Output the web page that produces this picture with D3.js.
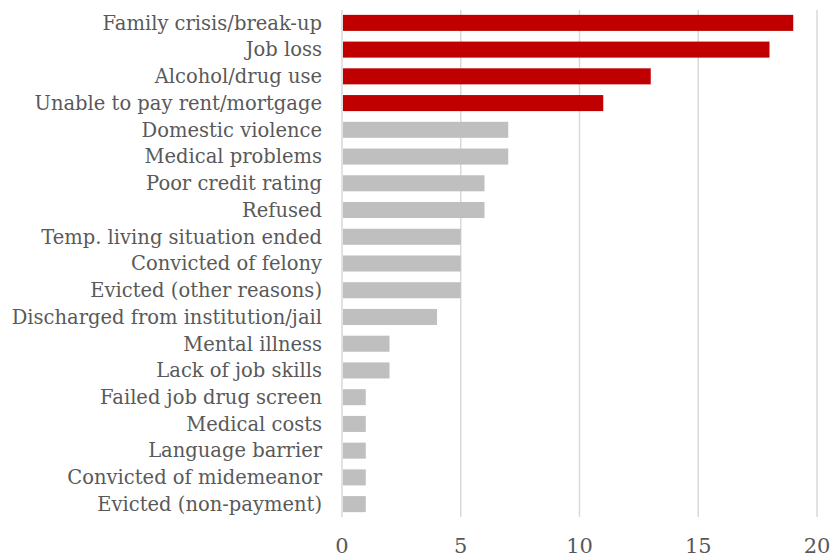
<!DOCTYPE html>
<html>
<head>
<meta charset="utf-8">
<script src="https://cdn.jsdelivr.net/npm/d3@7"></script>
<style>
  body { margin: 0; background: #fff; }
  text { font-family: "DejaVu Serif", serif; fill: #595959; }
</style>
</head>
<body>
<div class="root"></div>
<script>
var categories = ['Family crisis/break-up', 'Job loss', 'Alcohol/drug use', 'Unable to pay rent/mortgage',
  'Domestic violence', 'Medical problems', 'Poor credit rating', 'Refused',
  'Temp. living situation ended', 'Convicted of felony', 'Evicted (other reasons)',
  'Discharged from institution/jail', 'Mental illness', 'Lack of job skills',
  'Failed job drug screen', 'Medical costs', 'Language barrier',
  'Convicted of midemeanor', 'Evicted (non-payment)'];
var values = [19, 18, 13, 11, 7, 7, 6, 6, 5, 5, 5, 4, 2, 2, 1, 1, 1, 1, 1];
var highlighted = [true, true, true, true, false, false, false, false, false, false,
  false, false, false, false, false, false, false, false, false];
var tickValues = [0, 5, 10, 15, 20];

var w = 834, h = 559;

var svg = d3.select('.root').append('svg')
  .attr('width', w)
  .attr('height', h);

var x = d3.scaleLinear().domain([0, 20]).range([342, 817]);
var y = d3.scaleBand().domain(categories).range([9.5, 517.5]).paddingInner(0.4).paddingOuter(0.2);

// gridlines
svg.append('g')
  .selectAll('line')
  .data(tickValues)
  .enter().append('line')
    .attr('x1', function(d) { return x(d); })
    .attr('x2', function(d) { return x(d); })
    .attr('y1', 10)
    .attr('y2', 517)
    .attr('stroke', '#d9d9d9')
    .attr('stroke-width', 1.5);

// bars
svg.append('g')
  .selectAll('rect')
  .data(values)
  .enter().append('rect')
    .attr('x', x(0) + 1)
    .attr('y', function(d, i) { return y(categories[i]); })
    .attr('width', function(d) { return x(d) - x(0) - 1; })
    .attr('height', y.bandwidth())
    .attr('fill', function(d, i) { return highlighted[i] ? '#c00000' : '#bfbfbf'; });

// category labels
svg.append('g')
  .selectAll('text')
  .data(categories)
  .enter().append('text')
    .attr('x', 322)
    .attr('y', function(d) { return y(d) + y.bandwidth() / 2; })
    .attr('dy', '0.35em')
    .attr('text-anchor', 'end')
    .style('font-size', '19.5px')
    .text(function(d) { return d; });

// x tick labels
svg.append('g')
  .selectAll('text')
  .data(tickValues)
  .enter().append('text')
    .attr('x', function(d) { return x(d); })
    .attr('y', 553)
    .attr('text-anchor', 'middle')
    .style('font-size', '21px')
    .text(function(d) { return d; });
</script>
</body>
</html>
